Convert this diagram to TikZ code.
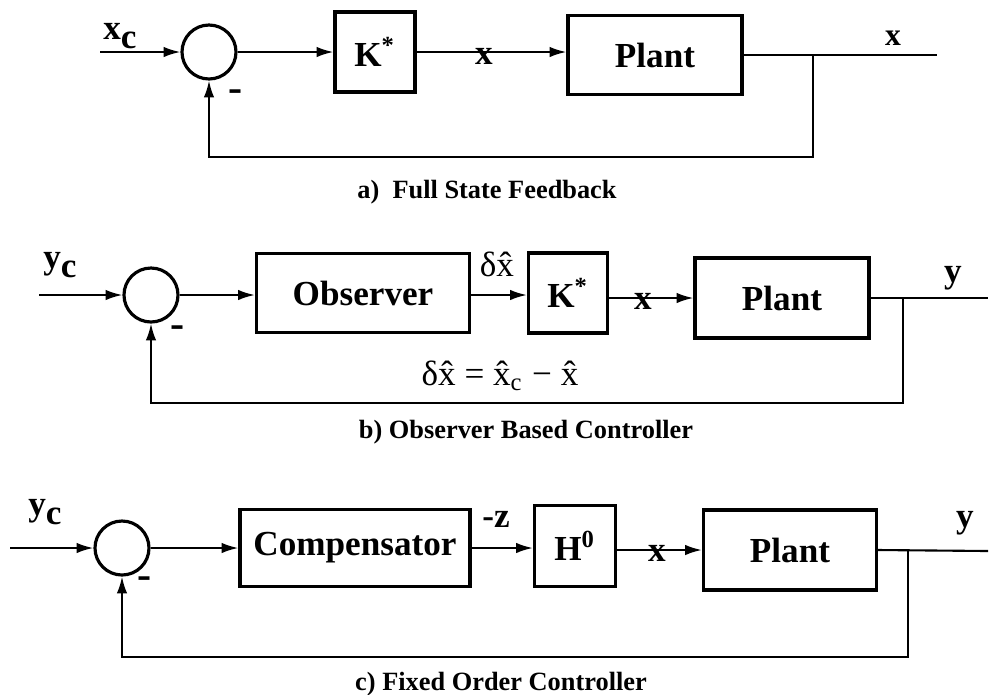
\documentclass[tikz,border=0pt]{standalone}
\usepackage{fontspec}
\setmainfont{Liberation Serif}
\usetikzlibrary{arrows.meta}

\tikzset{
  blk/.style={draw, line width=0.9pt, inner sep=0pt, font=\fontsize{10}{12}\selectfont\bfseries},
  sum/.style={draw, circle, line width=0.9pt, minimum size=5.4mm, inner sep=0pt},
  sig/.style={line width=0.6pt},
  arr/.style={sig, -{Latex[length=4.8pt,width=3pt]}},
  lbl/.style={inner sep=0pt, font=\fontsize{10}{12}\selectfont\bfseries},
  minus/.style={inner sep=0pt, font=\fontsize{12}{14}\selectfont\bfseries},
  captxt/.style={inner sep=0pt, font=\fontsize{7.5}{9}\selectfont\bfseries},
}

\begin{document}
\begin{tikzpicture}[x=0.1mm, y=-0.1mm]
\useasboundingbox (0,0) rectangle (989,694);

% a) Full state feedback
\node[sum] (sA) at (209,52) {};
\node[blk, minimum width=8mm, minimum height=8mm] (kA) at (375,52) {K\textsuperscript{*}};
\node[blk, minimum width=17.4mm, minimum height=7.9mm] (pA) at (655,55) {Plant};
\coordinate (inA) at (100,52);
\coordinate (outA) at (937,55);
\coordinate (brA) at (813,55);
\coordinate (fbA) at (209,157);

\draw[arr] (inA) -- (sA);
\draw[arr] (sA) -- (kA);
\draw[arr] (kA) -- (kA -| pA.west);
\draw[sig] (pA.east) -- (outA);
\draw[arr] (brA) |- (fbA) -- (sA);

\node[lbl] (xcA) at (120,36) {x\raisebox{-0.55ex}{c}};
\node[lbl] (xA) at (484,56) {x};
\node[lbl, font=\fontsize{9}{11}\selectfont\bfseries] (yA) at (893,38) {x};
\node[minus] (mA) at (236,96) {-};
\node[captxt] (capA) at (487,192) {a)\ \ Full State Feedback};

% b) Observer based controller
\node[sum] (sB) at (151,295) {};
\node[blk, minimum width=21.3mm, minimum height=7.9mm] (oB) at (363,293) {Observer};
\node[blk, minimum width=7.9mm, minimum height=8mm] (kB) at (568,293) {K\textsuperscript{*}};
\node[blk, minimum width=17.4mm, minimum height=8mm] (pB) at (782,298) {Plant};
\coordinate (inB) at (39,295);
\coordinate (outB) at (988,298);
\coordinate (brB) at (903,298);
\coordinate (fbB) at (151,403);

\draw[arr] (inB) -- (sB);
\draw[arr] (sB) -- (sB -| oB.west);
\draw[arr] (oB.east |- sB) -- (sB -| kB.west);
\draw[arr] (kB.east |- pB) -- (pB.west);
\draw[sig] (pB.east) -- (outB);
\draw[arr] (brB) |- (fbB) -- (sB);

\node[lbl] (ycB) at (60,265) {y\raisebox{-0.55ex}{c}};
\node[lbl, font=\fontsize{10}{12}\selectfont] (dxB) at (497,264) {δ\^{x}};
\node[lbl] (xB) at (643,301) {x};
\node[lbl] (yB) at (953,278) {y};
\node[minus] (mB) at (178,332) {-};
\node[lbl, font=\fontsize{10}{12}\selectfont] (eqB) at (500,376) {δ\^{x} = \^{x}\textsubscript{c} − \^{x}};
\node[captxt] (capB) at (526,432) {b) Observer Based Controller};

% c) Fixed order controller
\node[sum] (sC) at (122,548) {};
\node[blk, minimum width=23mm, minimum height=7.7mm] (cC) at (355,548) {Compensator};
\node[blk, minimum width=8.1mm, minimum height=8.1mm] (hC) at (575,546) {H\textsuperscript{0}};
\node[blk, minimum width=17.3mm, minimum height=8mm] (pC) at (790,550) {Plant};
\coordinate (inC) at (10,548);
\coordinate (outC) at (988,551);
\coordinate (brC) at (908,551);
\coordinate (fbC) at (122,657);

\draw[arr] (inC) -- (sC);
\draw[arr] (sC) -- (cC);
\draw[arr] (cC.east |- sC) -- (sC -| hC.west);
\draw[arr] (hC.east |- pC) -- (pC.west);
\draw[sig] (pC.east) -- (outC);
\draw[arr] (brC) |- (fbC) -- (sC);

\node[lbl] (ycC) at (45,512) {y\raisebox{-0.55ex}{c}};
\node[lbl] (zC) at (496,519) {-z};
\node[lbl] (xC) at (657,553) {x};
\node[lbl] (yC) at (965,523) {y};
\node[minus] (mC) at (145,583) {-};
\node[captxt] (capC) at (501,684) {c) Fixed Order Controller};

\end{tikzpicture}
\end{document}
